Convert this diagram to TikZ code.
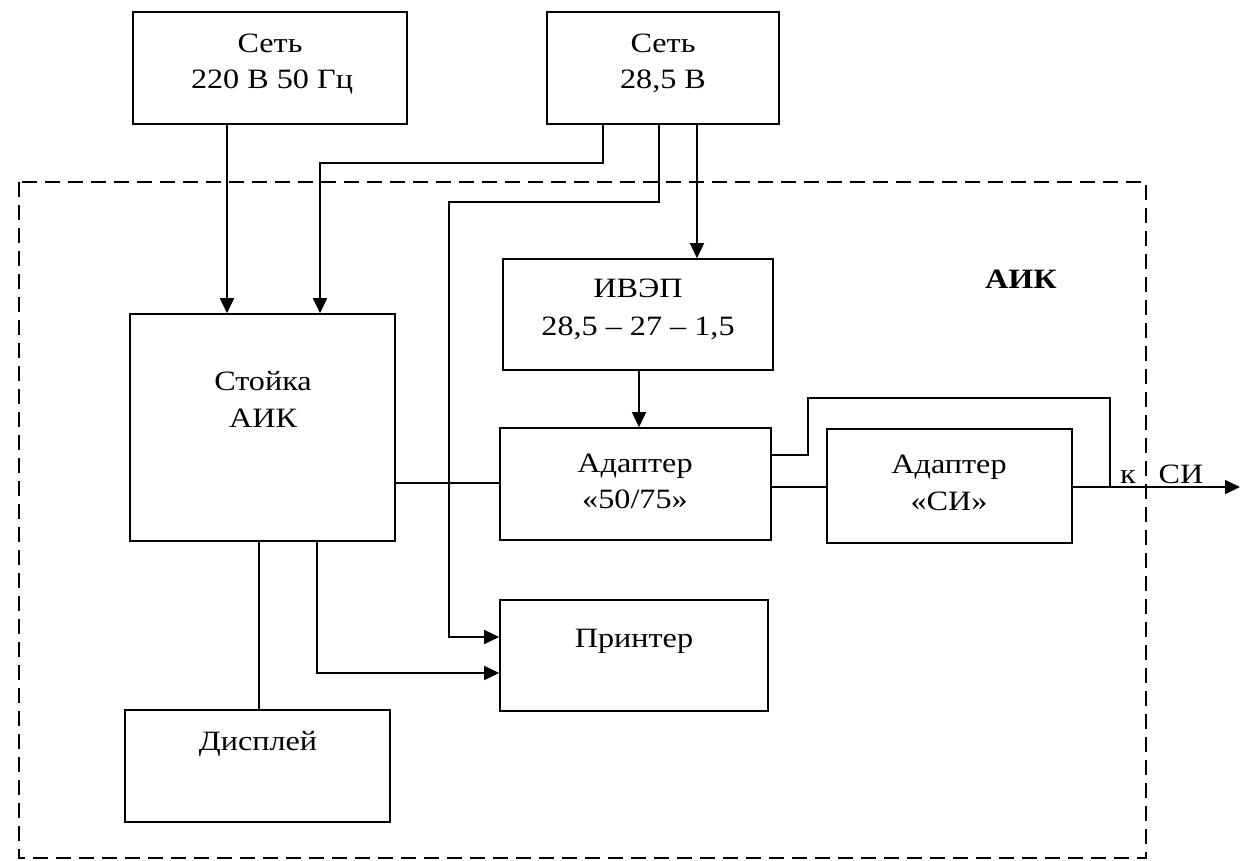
\documentclass[tikz,border=0pt]{standalone}
\usepackage{fontspec}
\setmainfont{Liberation Serif}[FakeStretch=1.15]
\usetikzlibrary{arrows.meta}
\tikzset{
  box/.style={draw, line width=1.6pt, inner sep=0pt},
  lbl/.style={inner sep=0pt, anchor=base, font=\fontsize{28}{34}\selectfont},
  con/.style={line width=1.6pt},
  arr/.style={con, -{Triangle[length=15pt,width=14pt]}},
  frame/.style={line width=1.8pt, dash pattern=on 15pt off 8pt}
}
\begin{document}
\begin{tikzpicture}[x=1pt,y=-1pt]
\useasboundingbox (0,0) rectangle (1246,860);
% frame
\draw[frame] (19,182) rectangle (1146,858);
% boxes
\node[box, minimum width=274pt, minimum height=112pt] (s220) at (270,68) {};
\node[box, minimum width=232pt, minimum height=112pt] (s285) at (663,68) {};
\node[box, minimum width=270pt, minimum height=111pt] (ivep) at (638,314.5) {};
\node[box, minimum width=265pt, minimum height=227pt] (rack) at (262.5,427.5) {};
\node[box, minimum width=271pt, minimum height=112pt] (a5075) at (635.5,484) {};
\node[box, minimum width=245pt, minimum height=114pt] (asi) at (949.5,486) {};
\node[box, minimum width=268pt, minimum height=111pt] (prn) at (634,655.5) {};
\node[box, minimum width=265pt, minimum height=112pt] (disp) at (257.5,766) {};
% texts
\node[lbl] (t1a) at (270,52) {Сеть};
\node[lbl] (t1b) at (272,88) {220 В 50 Гц};
\node[lbl] (t2a) at (663,52) {Сеть};
\node[lbl] (t2b) at (663,88) {28,5 В};
\node[lbl] (t3a) at (638,297) {ИВЭП};
\node[lbl] (t3b) at (638,335) {28,5 – 27 – 1,5};
\node[lbl] (t4a) at (263,390) {Стойка};
\node[lbl] (t4b) at (263,427) {АИК};
\node[lbl] (t5a) at (635,472) {Адаптер};
\node[lbl] (t5b) at (635,508) {«50/75»};
\node[lbl] (t6a) at (949,473) {Адаптер};
\node[lbl] (t6b) at (949,510) {«СИ»};
\node[lbl] (t7) at (634,647) {Принтер};
\node[lbl] (t8) at (258,750) {Дисплей};
\node[lbl, font=\fontsize{28}{34}\selectfont\bfseries] (aik) at (1021,288) {АИК};
\node[lbl] (tk) at (1128,483) {к};
\node[lbl] (tsi) at (1181,483) {СИ};
% connectors
\coordinate (out) at (1240,487);
\draw[arr] (227,0 |- s220.south) -- (227,0 |- rack.north);
\draw[arr] (603,0 |- s285.south) -- (603,163) -- (320,163) -- (320,0 |- rack.north);
\draw[arr] (659,0 |- s285.south) -- (659,202) -- (449,202) -- (449,637) -- (prn.west |- 0,637);
\draw[arr] (697,0 |- s285.south) -- (697,0 |- ivep.north);
\draw[arr] (639,0 |- ivep.south) -- (639,0 |- a5075.north);
\draw[con] (rack.east |- 0,483) -- (a5075.west |- 0,483);
\draw[con] (259,0 |- rack.south) -- (259,0 |- disp.north);
\draw[arr] (317,0 |- rack.south) -- (317,673) -- (prn.west |- 0,673);
\draw[con] (a5075.east |- 0,455) -- (808,455) -- (808,398) -- (1110,398) -- (1110,487);
\draw[con] (a5075.east |- 0,487) -- (asi.west |- 0,487);
\draw[arr] (asi.east |- 0,487) -- (out);
\end{tikzpicture}
\end{document}
